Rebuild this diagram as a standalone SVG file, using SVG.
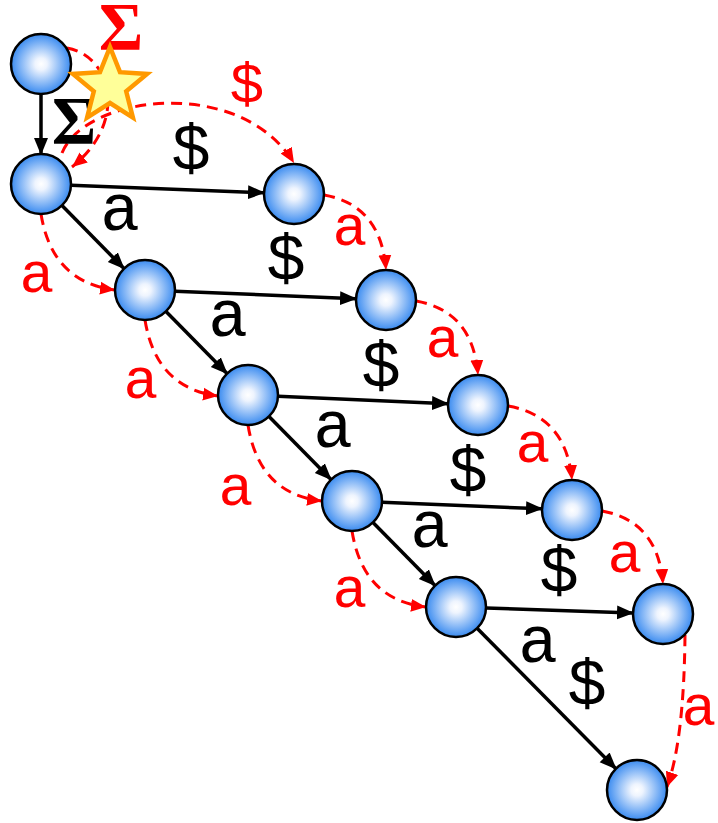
<svg xmlns="http://www.w3.org/2000/svg" width="718" height="823" viewBox="0 0 718 823">
<style>
.node{stroke:#000;stroke-width:2.5;fill:url(#g)}
.e{stroke:#000;stroke-width:3.5;fill:none;marker-end:url(#ab)}
.f{stroke:#f00;stroke-width:3;fill:none;stroke-dasharray:11 7;marker-end:url(#ar)}
.lb{font-family:"Liberation Mono","DejaVu Sans Mono",monospace;font-size:66px;fill:#000;text-anchor:middle}
.lr{font-family:"Liberation Mono","DejaVu Sans Mono",monospace;font-size:58px;fill:#f00;text-anchor:middle}
.sg{font-family:"Liberation Serif","DejaVu Serif",serif;font-weight:bold;font-size:68px;text-anchor:middle}
</style>
<defs>
<radialGradient id="g" cx="50%" cy="50%" r="50%">
<stop offset="0" stop-color="#ffffff"/>
<stop offset="0.2" stop-color="#eef4fe"/>
<stop offset="1" stop-color="#3a8bf0"/>
</radialGradient>
<marker id="ab" markerUnits="userSpaceOnUse" markerWidth="18" markerHeight="16" refX="16" refY="8" orient="auto">
<path d="M0,1 L17,8 L0,15 z" fill="#000"/>
</marker>
<marker id="ar" markerUnits="userSpaceOnUse" markerWidth="16" markerHeight="15" refX="15" refY="7.5" orient="auto">
<path d="M0,1 L15,7.5 L0,14 z" fill="#f00"/>
</marker>
</defs>
<g id="connectors">
<path class="e" d="M41 94 L41 154"/>
<path class="e" d="M71 185.2 L264 192.8"/>
<path class="e" d="M62 205.4 L124 268.6"/>
<path class="e" d="M175 291.2 L356 298.8"/>
<path class="e" d="M166 311.4 L227 373.6"/>
<path class="e" d="M278 396.3 L448 403.7"/>
<path class="e" d="M269 416.4 L331 479.6"/>
<path class="e" d="M382 502.2 L542 508.8"/>
<path class="e" d="M373 522.4 L435 585.6"/>
<path class="e" d="M486 608 L633 613"/>
<path class="e" d="M477.1 628.3 L615.9 768.7"/>
<path class="f" d="M67 48 C110 55 130 120 72 167"/>
<path class="f" d="M62 153 C85 95 240 75 294 163"/>
<path class="f" d="M41 214 Q52 282 115 290"/>
<path class="f" d="M145 320 Q156 388 218 396"/>
<path class="f" d="M248 425 Q259 494 322 501"/>
<path class="f" d="M352 531 Q363 600 426 607"/>
<path class="f" d="M324 195 Q381 205 386 270"/>
<path class="f" d="M416 301 Q473 311 478 375"/>
<path class="f" d="M508 406 Q566 416 572 480"/>
<path class="f" d="M602 511 Q658 521 663 584"/>
<path class="f" d="M685 635 Q684 740 667 787"/>
</g>
<g id="labels">
<text class="sg" x="121" y="49" fill="#f00">Σ</text>
<text class="sg" x="74" y="143" fill="#000">Σ</text>
<text class="lr" x="247" y="103">$</text>
<text class="lb" x="191" y="170">$</text>
<text class="lb" x="286" y="280">$</text>
<text class="lb" x="381" y="387">$</text>
<text class="lb" x="468" y="492">$</text>
<text class="lb" x="559" y="592">$</text>
<text class="lb" x="587" y="705">$</text>
<text class="lb" x="120" y="230">a</text>
<text class="lb" x="228" y="336">a</text>
<text class="lb" x="333" y="447">a</text>
<text class="lb" x="430" y="547">a</text>
<text class="lb" x="538" y="662">a</text>
<text class="lr" x="37" y="292">a</text>
<text class="lr" x="141" y="398">a</text>
<text class="lr" x="236" y="505">a</text>
<text class="lr" x="350" y="607">a</text>
<text class="lr" x="350" y="245">a</text>
<text class="lr" x="443" y="357">a</text>
<text class="lr" x="533" y="462">a</text>
<text class="lr" x="625" y="572">a</text>
<text class="lr" x="699" y="725">a</text>
</g>
<g id="n0"><circle class="node" cx="41" cy="64" r="30"/></g>
<g id="n1"><circle class="node" cx="41" cy="184" r="30"/></g>
<g id="d2"><circle class="node" cx="145" cy="290" r="30"/></g>
<g id="d3"><circle class="node" cx="248" cy="395" r="30"/></g>
<g id="d4"><circle class="node" cx="352" cy="501" r="30"/></g>
<g id="d5"><circle class="node" cx="456" cy="607" r="30"/></g>
<g id="r1"><circle class="node" cx="294" cy="194" r="30"/></g>
<g id="r2"><circle class="node" cx="386" cy="300" r="30"/></g>
<g id="r3"><circle class="node" cx="478" cy="405" r="30"/></g>
<g id="r4"><circle class="node" cx="572" cy="510" r="30"/></g>
<g id="r5"><circle class="node" cx="663" cy="614" r="30"/></g>
<g id="r6"><circle class="node" cx="637" cy="790" r="30"/></g>
<g id="star"><polygon points="110,47 120,72.2 147.1,73.9 126.2,91.3 132.9,117.6 110,103 87.1,117.6 93.8,91.3 72.9,73.9 100,72.2" fill="#ffff99" stroke="#ff9900" stroke-width="4.5" stroke-linejoin="miter"/></g>
</svg>
